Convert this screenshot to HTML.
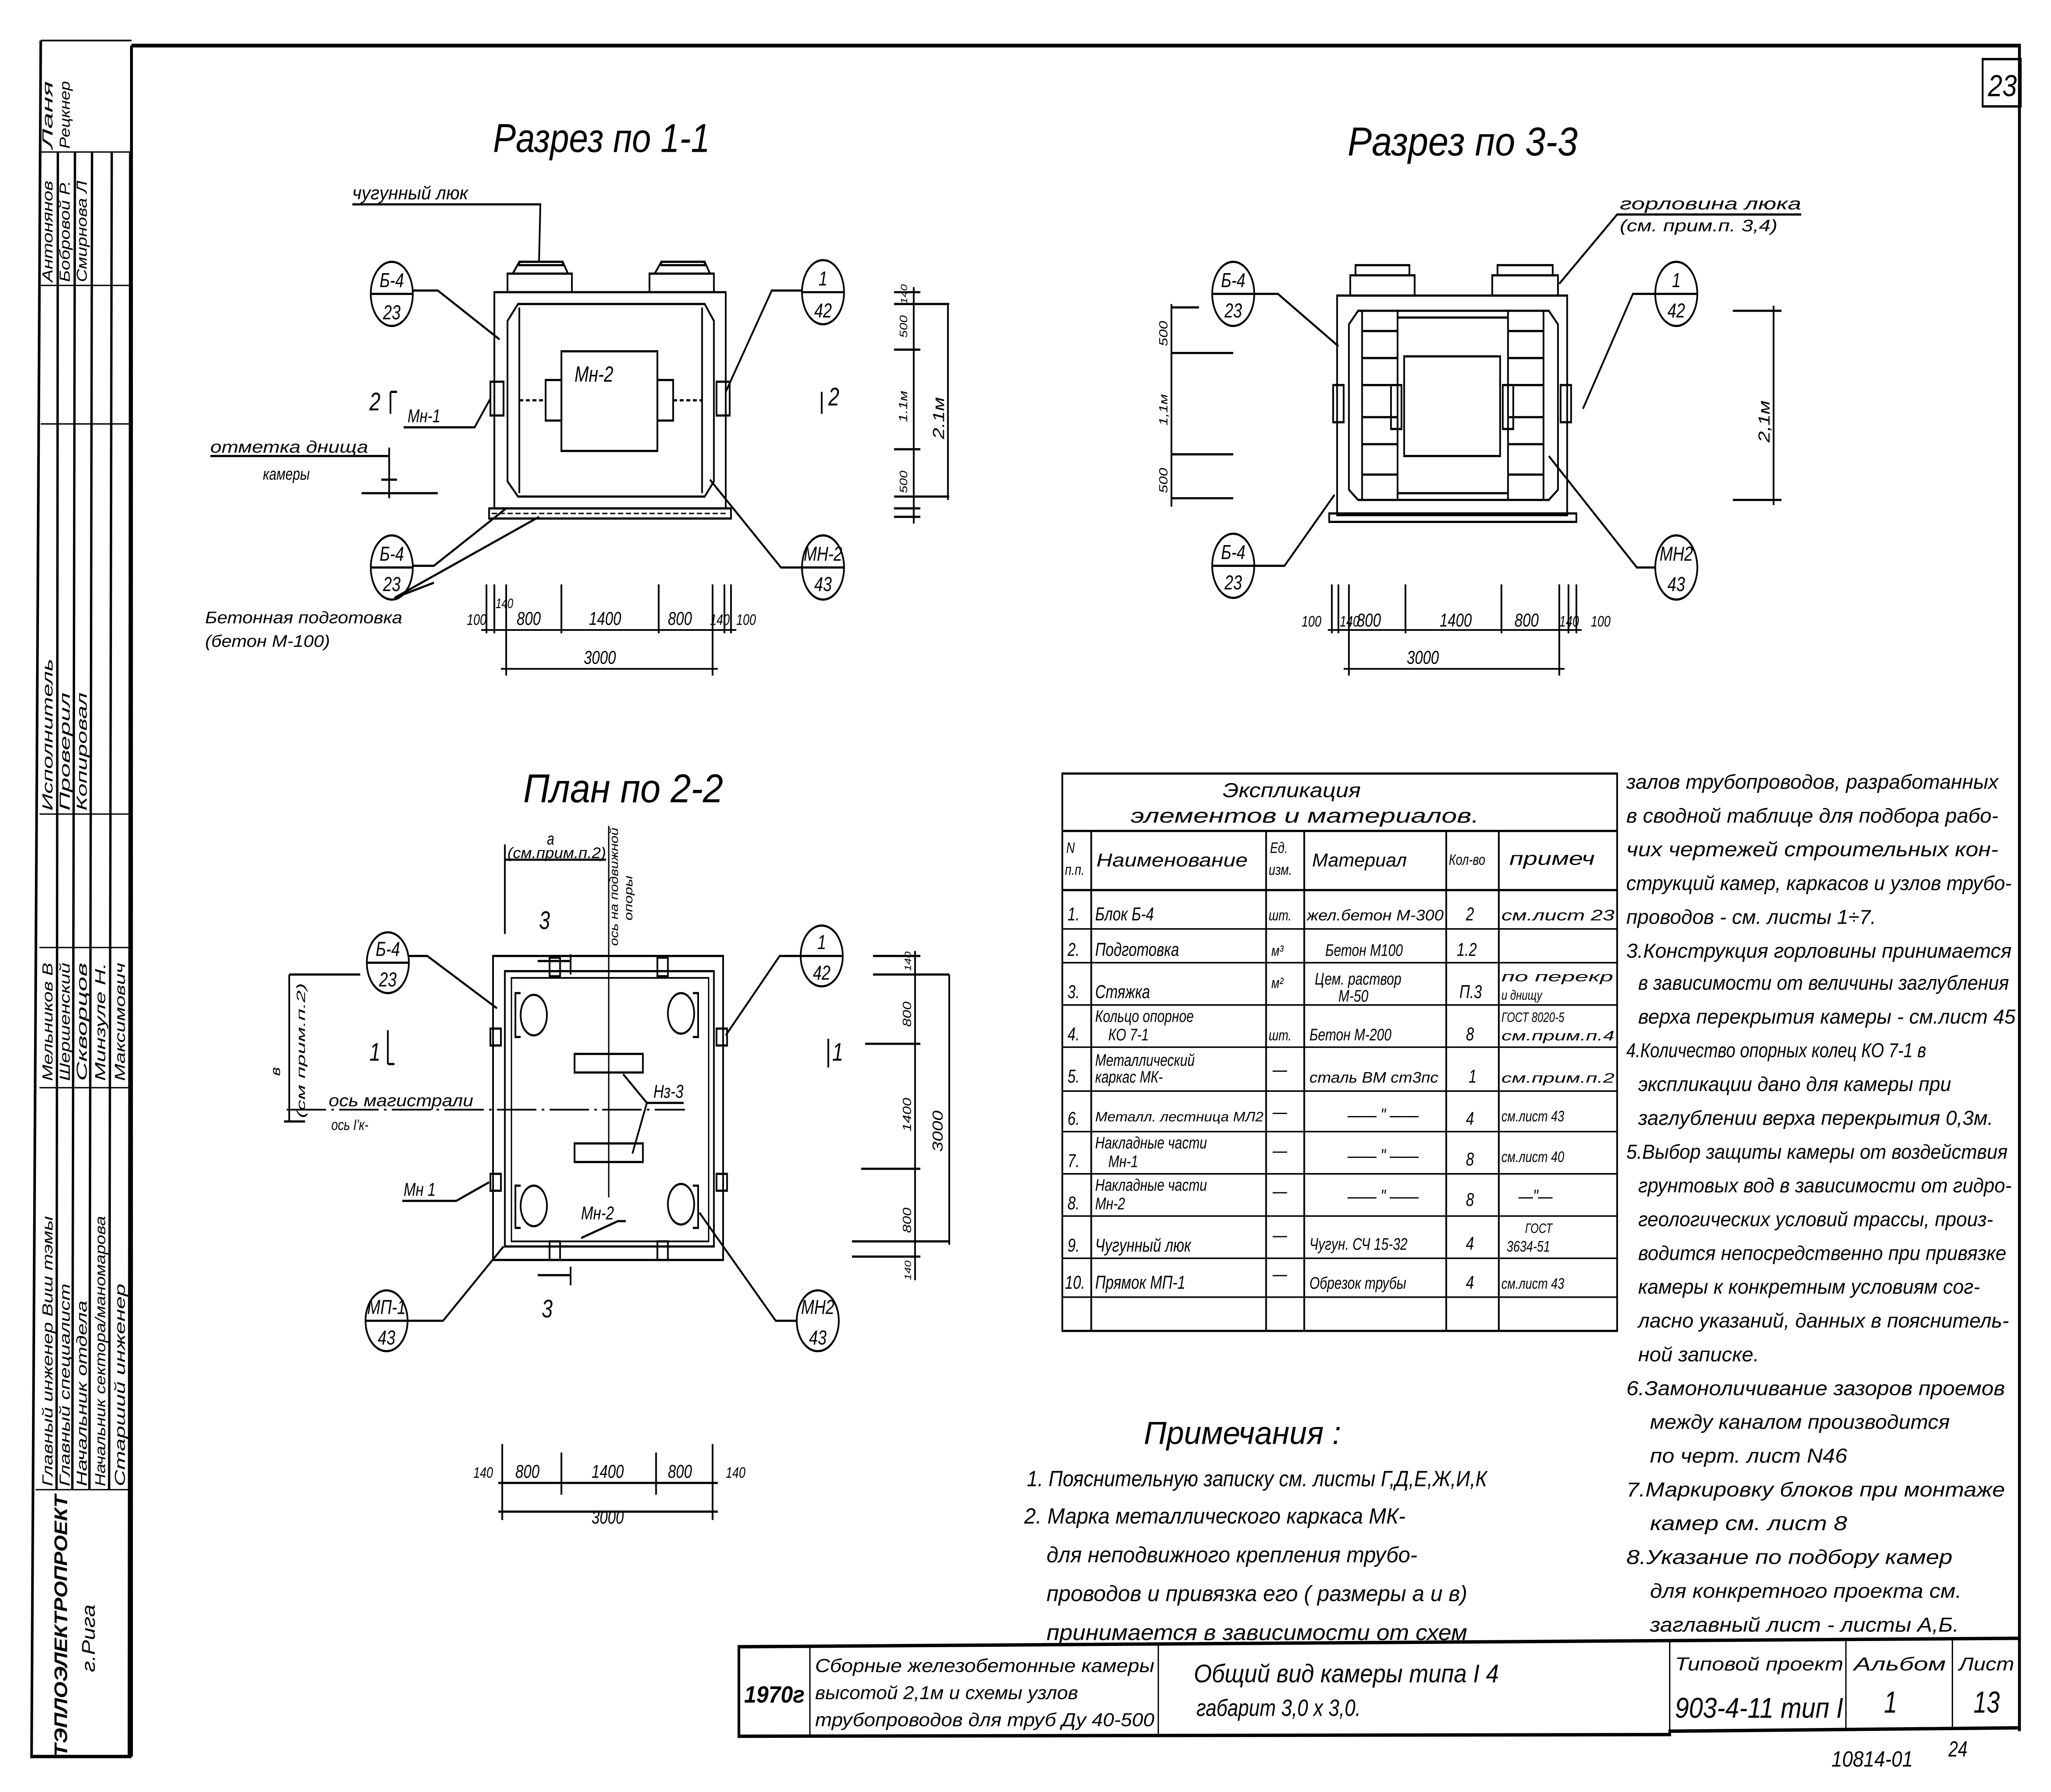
<!DOCTYPE html>
<html><head><meta charset="utf-8"><style>
html,body{margin:0;padding:0;background:#fff;overflow:hidden;width:100vw;height:100vh}
svg{display:block;position:fixed;left:0;top:0;width:100vw;height:100vh}
text{font-family:"Liberation Sans","DejaVu Sans",sans-serif;font-style:italic;fill:#000}
</style></head><body>
<svg xmlns="http://www.w3.org/2000/svg" viewBox="0 0 1560 1061" preserveAspectRatio="none">
<g fill="none" stroke="#000" stroke-width="1.2">
<path d="M100 27 L1536 27 L1536 1025 M100 27 L100 1040" stroke-width="2.2"/>
<rect x="1508" y="35" width="29" height="28" stroke-width="1.4"/>
<path d="M31 24 L100 24" stroke-width="1"/>
<path d="M31 24 L24 1040 L100 1040" stroke-width="2"/>
<path d="M44 90 L43 882 M57 90 L55 882 M70 90 L68 882 M85 90 L83 882 M99 90 L98 1040" stroke-width="1.8"/>
<path d="M31 90 L100 90 M31 169 L100 169 M31 251 L100 251 M30 482 L100 482 M30 561 L100 561 M30 644 L100 644 M27 882 L100 882" stroke-width="0.8"/>
<path d="M562 975 L1536 970 L1536 1023 L1270 1025 L1270 1027 L562 1028 Z" stroke-width="2"/>
<path d="M616 975 L616 1028 M881 974 L881 1028 M1270 972 L1270 1027 M1404 971 L1404 1024 M1485 971 L1485 1024" stroke-width="1"/>
</g>
<g font-size="11">
<text transform="translate(40 880) rotate(-90)" textLength="160" lengthAdjust="spacingAndGlyphs">Главный инженер Виш тэмы</text>
<text transform="translate(53 880) rotate(-90)" textLength="120" lengthAdjust="spacingAndGlyphs">Главный специалист</text>
<text transform="translate(66 880) rotate(-90)" textLength="110" lengthAdjust="spacingAndGlyphs">Начальник отдела</text>
<text transform="translate(80 880) rotate(-90)" textLength="160" lengthAdjust="spacingAndGlyphs">Начальник сектора/маномарова</text>
<text transform="translate(95 880) rotate(-90)" textLength="120" lengthAdjust="spacingAndGlyphs">Старший инженер</text>
<text transform="translate(40 640) rotate(-90)" textLength="70" lengthAdjust="spacingAndGlyphs">Мельников В</text>
<text transform="translate(53 640) rotate(-90)" textLength="70" lengthAdjust="spacingAndGlyphs">Шершенский</text>
<text transform="translate(66 640) rotate(-90)" textLength="70" lengthAdjust="spacingAndGlyphs">Скворцов</text>
<text transform="translate(80 640) rotate(-90)" textLength="70" lengthAdjust="spacingAndGlyphs">Минзуле Н.</text>
<text transform="translate(95 640) rotate(-90)" textLength="70" lengthAdjust="spacingAndGlyphs">Максимович</text>
<text transform="translate(40 480) rotate(-90)" textLength="90" lengthAdjust="spacingAndGlyphs">Исполнитель</text>
<text transform="translate(53 480) rotate(-90)" textLength="70" lengthAdjust="spacingAndGlyphs">Проверил</text>
<text transform="translate(66 480) rotate(-90)" textLength="70" lengthAdjust="spacingAndGlyphs">Копировал</text>
<text transform="translate(40 167) rotate(-90)" textLength="60" lengthAdjust="spacingAndGlyphs">Антонянов</text>
<text transform="translate(53 167) rotate(-90)" textLength="60" lengthAdjust="spacingAndGlyphs">Бобровой Р.</text>
<text transform="translate(66 167) rotate(-90)" textLength="60" lengthAdjust="spacingAndGlyphs">Смирнова Л</text>
<text transform="translate(40 88) rotate(-90)" textLength="40" lengthAdjust="spacingAndGlyphs">Ланя</text>
<text transform="translate(53 88) rotate(-90)" textLength="40" lengthAdjust="spacingAndGlyphs">Рецкнер</text>
<text transform="translate(51 1040) rotate(-90)" font-size="14" font-style="normal" font-weight="bold" textLength="155" lengthAdjust="spacingAndGlyphs">ТЭПЛОЭЛЕКТРОПРОЕКТ</text>
<text transform="translate(72 990) rotate(-90)" font-size="14" textLength="40" lengthAdjust="spacingAndGlyphs">г.Рига</text>
</g>
<text x="1512" y="57" font-size="18" textLength="22" lengthAdjust="spacingAndGlyphs">23</text>
<text x="566" y="1008" font-size="14" font-style="normal" font-weight="bold" textLength="46" lengthAdjust="spacingAndGlyphs">1970г</text>
<text x="620" y="990" font-size="11" textLength="258" lengthAdjust="spacingAndGlyphs">Сборные железобетонные камеры</text>
<text x="620" y="1006" font-size="11" textLength="200" lengthAdjust="spacingAndGlyphs">высотой 2,1м и схемы узлов</text>
<text x="620" y="1022" font-size="11" textLength="258" lengthAdjust="spacingAndGlyphs">трубопроводов для труб Ду 40-500</text>
<text x="908" y="996" font-size="15" textLength="232" lengthAdjust="spacingAndGlyphs">Общий вид камеры типа I  4</text>
<text x="910" y="1016" font-size="14" textLength="125" lengthAdjust="spacingAndGlyphs">габарит 3,0 х 3,0.</text>
<text x="1274" y="989" font-size="11" textLength="128" lengthAdjust="spacingAndGlyphs">Типовой проект</text>
<text x="1410" y="989" font-size="11" textLength="70" lengthAdjust="spacingAndGlyphs">Альбом</text>
<text x="1490" y="989" font-size="11" textLength="42" lengthAdjust="spacingAndGlyphs">Лист</text>
<text x="1274" y="1017" font-size="17" font-style="normal" textLength="128" lengthAdjust="spacingAndGlyphs">903-4-11 тип I</text>
<text x="1433" y="1014" font-size="18" font-style="normal">1</text>
<text x="1501" y="1014" font-size="18" font-style="normal">13</text>
<text x="1393" y="1046" font-size="13" textLength="62" lengthAdjust="spacingAndGlyphs">10814-01</text>
<text x="1482" y="1040" font-size="13">24</text>

<text x="375" y="90" font-size="24" textLength="165" lengthAdjust="spacingAndGlyphs">Разрез по 1-1</text>
<text x="1025" y="92" font-size="24" textLength="175" lengthAdjust="spacingAndGlyphs">Разрез по 3-3</text>
<text x="398" y="475" font-size="24" textLength="152" lengthAdjust="spacingAndGlyphs">План по 2-2</text>

<g fill="none" stroke="#000" stroke-width="1.3">
<rect x="376" y="173" width="176" height="128"/>
<path d="M394 180 L536 180 L543 190 L543 285 L536 294 L394 294 L386 285 L386 190 Z"/>
<path d="M395 182 L395 292 M534 182 L534 292"/>
<rect x="427" y="208" width="73" height="59"/>
<rect x="415" y="225" width="12" height="24"/><rect x="500" y="225" width="12" height="24"/>
<path d="M395 237 L415 237 M512 237 L534 237" stroke-dasharray="3 2"/>
<rect x="372" y="301" width="184" height="6"/>
<path d="M374 304 L554 304" stroke-dasharray="4 2" stroke-width="0.8"/>
<rect x="386" y="162" width="49" height="11"/><path d="M390 162 L395 155 L428 155 L432 162"/><rect x="395" y="155" width="33" height="2"/>
<rect x="494" y="162" width="49" height="11"/><path d="M498 162 L503 155 L536 155 L540 162"/><rect x="503" y="155" width="33" height="2"/>
<rect x="373" y="226" width="10" height="20"/><rect x="545" y="226" width="10" height="20"/>
<ellipse cx="298" cy="174" rx="16" ry="19"/><path d="M282 174 L314 174"/>
<path d="M314 172 L333 172 L380 201"/>
<ellipse cx="298" cy="336" rx="16" ry="19"/><path d="M282 336 L314 336"/>
<path d="M314 335 L330 335 L385 301 M330 345 L300 354 L410 306" />
<ellipse cx="626" cy="173" rx="16" ry="19"/><path d="M610 173 L642 173"/>
<path d="M610 172 L587 172 L552 232"/>
<ellipse cx="626" cy="336" rx="16" ry="19"/><path d="M610 336 L642 336"/>
<path d="M610 336 L594 336 L540 284"/>
<path d="M268 121 L411 121 L410 155"/>
<path d="M307 253 L361 253 L373 236"/>
<path d="M160 270 L296 270 M296 265 L296 295 M290 284 L302 284 M275 292 L333 292"/>
<path d="M297 232 L297 245 M297 232 L302 232 M625 232 L625 245"/>
<path d="M370 346 L370 375 M376 346 L376 375 M385 346 L385 400 M427 346 L427 375 M501 346 L501 375 M542 346 L542 400 M551 346 L551 375 M556 346 L556 375"/>
<path d="M366 373 L560 373 M381 396 L546 396" stroke-width="1"/>
<path d="M680 173 L700 173 M680 180 L722 180 M680 207 L700 207 M680 266 L700 266 M680 294 L722 294 M680 301 L700 301 M680 306 L700 306"/>
<path d="M695 170 L695 310 M721 180 L721 296"/>
</g>
<g font-size="13">
<text x="268" y="118" font-size="11" textLength="88" lengthAdjust="spacingAndGlyphs">чугунный люк</text>
<text x="298" y="170" text-anchor="middle" font-size="12">Б-4</text><text x="298" y="189" text-anchor="middle" font-size="12">23</text>
<text x="298" y="332" text-anchor="middle" font-size="12">Б-4</text><text x="298" y="350" text-anchor="middle" font-size="12">23</text>
<text x="626" y="169" text-anchor="middle" font-size="12">1</text><text x="626" y="188" text-anchor="middle" font-size="12">42</text>
<text x="626" y="332" text-anchor="middle" font-size="12">МН-2</text><text x="626" y="350" text-anchor="middle" font-size="12">43</text>
<text x="437" y="226" font-size="13">Мн-2</text>
<text x="310" y="250" font-size="11">Мн-1</text>
<text x="281" y="243" font-size="15">2</text><text x="630" y="240" font-size="15">2</text>
<text x="160" y="268" font-size="10" textLength="120" lengthAdjust="spacingAndGlyphs">отметка днища</text>
<text x="200" y="284" font-size="10">камеры</text>
<text x="156" y="369" font-size="10" textLength="150" lengthAdjust="spacingAndGlyphs">Бетонная подготовка</text>
<text x="156" y="383" font-size="10" textLength="95" lengthAdjust="spacingAndGlyphs">(бетон М-100)</text>
<text x="355" y="370" font-size="9">100</text><text x="377" y="360" font-size="8">140</text>
<text x="393" y="370" font-size="11">800</text><text x="448" y="370" font-size="11">1400</text><text x="508" y="370" font-size="11">800</text>
<text x="540" y="370" font-size="9">140</text><text x="560" y="370" font-size="9">100</text>
<text x="444" y="393" font-size="11">3000</text>
<text transform="translate(690 200) rotate(-90)" font-size="8">500</text>
<text transform="translate(690 250) rotate(-90)" font-size="9">1.1м</text>
<text transform="translate(690 292) rotate(-90)" font-size="8">500</text>
<text transform="translate(690 180) rotate(-90)" font-size="7">140</text>
<text transform="translate(718 260) rotate(-90)" font-size="12">2.1м</text>
</g>

<g fill="none" stroke="#000" stroke-width="1.3">
<rect x="1017" y="175" width="175" height="130"/>
<path d="M1033 184 L1178 184 L1185 192 L1185 290 L1178 296 L1033 296 L1026 290 L1026 192 Z"/>
<path d="M1036 184 L1036 296 M1063 184 L1063 296 M1147 184 L1147 296 M1174 184 L1174 296"/>
<path d="M1036 196 L1063 196 M1036 212 L1063 212 M1036 228 L1063 228 M1036 247 L1063 247 M1036 263 L1063 263 M1036 281 L1063 281 M1147 196 L1174 196 M1147 212 L1174 212 M1147 228 L1174 228 M1147 247 L1174 247 M1147 263 L1174 263 M1147 281 L1174 281"/>
<path d="M1063 188 L1147 188 M1063 292 L1147 292"/>
<rect x="1068" y="211" width="73" height="59"/>
<rect x="1058" y="228" width="8" height="26"/><rect x="1143" y="228" width="8" height="26"/>
<rect x="1014" y="228" width="8" height="22"/><rect x="1187" y="228" width="8" height="22"/>
<rect x="1011" y="304" width="188" height="5"/>
<rect x="1027" y="163" width="49" height="12"/><rect x="1031" y="157" width="41" height="6"/>
<rect x="1135" y="163" width="50" height="12"/><rect x="1139" y="157" width="42" height="6"/>
<ellipse cx="938" cy="174" rx="16" ry="19"/><path d="M922 174 L954 174"/>
<path d="M954 174 L972 174 L1018 205"/>
<ellipse cx="938" cy="335" rx="16" ry="19"/><path d="M922 335 L954 335"/>
<path d="M954 335 L977 335 L1015 293"/>
<ellipse cx="1275" cy="174" rx="16" ry="19"/><path d="M1259 174 L1291 174"/>
<path d="M1259 174 L1242 174 L1204 242"/>
<ellipse cx="1275" cy="336" rx="16" ry="19"/><path d="M1259 336 L1245 336 L1178 270"/>
<path d="M1186 168 L1230 127 L1370 127"/>
<path d="M891 180 L891 300 M891 182 L912 182 M891 209 L938 209 M891 269 L938 269 M891 295 L938 295"/>
<path d="M1318 184 L1355 184 M1318 296 L1355 296 M1349 181 L1349 299"/>
<path d="M1013 346 L1013 375 M1018 346 L1018 375 M1026 346 L1026 400 M1069 346 L1069 375 M1142 346 L1142 375 M1186 346 L1186 400 M1193 346 L1193 375 M1199 346 L1199 375"/>
<path d="M1010 373 L1203 373 M1022 396 L1190 396" stroke-width="1"/>
</g>
<g font-size="12">
<text x="938" y="170" text-anchor="middle">Б-4</text><text x="938" y="188" text-anchor="middle">23</text>
<text x="938" y="331" text-anchor="middle">Б-4</text><text x="938" y="349" text-anchor="middle">23</text>
<text x="1275" y="170" text-anchor="middle">1</text><text x="1275" y="188" text-anchor="middle">42</text>
<text x="1275" y="332" text-anchor="middle">МН2</text><text x="1275" y="350" text-anchor="middle">43</text>
<text x="1232" y="124" font-size="10" textLength="138" lengthAdjust="spacingAndGlyphs">горловина люка</text>
<text x="1232" y="137" font-size="10" textLength="120" lengthAdjust="spacingAndGlyphs">(см. прим.п. 3,4)</text>
<text transform="translate(888 205) rotate(-90)" font-size="9">500</text>
<text transform="translate(888 252) rotate(-90)" font-size="9">1,1м</text>
<text transform="translate(888 292) rotate(-90)" font-size="9">500</text>
<text transform="translate(1346 262) rotate(-90)" font-size="12">2,1м</text>
<text x="990" y="371" font-size="9">100</text><text x="1019" y="371" font-size="9">140</text>
<text x="1032" y="371" font-size="11">800</text><text x="1095" y="371" font-size="11">1400</text><text x="1152" y="371" font-size="11">800</text>
<text x="1186" y="371" font-size="9">140</text><text x="1210" y="371" font-size="9">100</text>
<text x="1070" y="393" font-size="11">3000</text>
</g>

<g fill="none" stroke="#000" stroke-width="1.3">
<rect x="375" y="566" width="175" height="180"/>
<rect x="384" y="575" width="159" height="163"/>
<path d="M389 579 L539 579 L539 735 L389 735 Z" stroke-width="1"/>
<ellipse cx="406" cy="601" rx="10" ry="12"/><ellipse cx="518" cy="600" rx="10" ry="12"/>
<ellipse cx="406" cy="714" rx="10" ry="12"/><ellipse cx="518" cy="713" rx="10" ry="12"/>
<path d="M396 588 L392 588 L392 614 L396 614 M527 588 L531 588 L531 614 L527 614 M396 702 L392 702 L392 727 L396 727 M527 702 L531 702 L531 727 L527 727"/>
<rect x="437" y="624" width="52" height="11"/><rect x="437" y="677" width="52" height="11"/>
<path d="M463 489 L463 709" stroke-width="1"/>
<path d="M218 657 L521 657" stroke-dasharray="30 4 2 4" stroke-width="1"/>
<rect x="418" y="567" width="8" height="11"/><rect x="500" y="567" width="8" height="11"/>
<rect x="418" y="735" width="8" height="11"/><rect x="500" y="735" width="8" height="11"/>
<rect x="373" y="609" width="8" height="10"/><rect x="545" y="609" width="8" height="10"/>
<rect x="373" y="695" width="8" height="10"/><rect x="545" y="695" width="8" height="10"/>
<ellipse cx="295" cy="570" rx="16" ry="18"/><path d="M279 570 L311 570"/>
<path d="M311 566 L325 566 L378 597"/>
<ellipse cx="625" cy="566" rx="16" ry="18"/><path d="M609 566 L641 566"/>
<path d="M609 566 L593 566 L552 613"/>
<ellipse cx="294" cy="782" rx="16" ry="18"/><path d="M278 782 L310 782"/>
<path d="M310 782 L337 782 L383 738"/>
<ellipse cx="622" cy="782" rx="16" ry="18"/><path d="M606 782 L590 782 L532 718"/>
<path d="M306 711 L347 711 L372 700 M442 733 L470 723 L476 723"/>
<path d="M492 653 L520 653 M492 653 L474 636 M492 653 L481 683"/>
<path d="M384 500 L384 553 M384 509 L461 509"/>
<path d="M220 577 L274 577 M220 577 L220 664 M216 664 L232 664"/>
<path d="M409 569 L434 569 M434 565 L434 577 M409 755 L434 755 M434 750 L434 761"/>
<path d="M295 610 L295 630 M295 630 L300 630 M630 615 L630 632"/>
<path d="M664 566 L700 566 M664 577 L722 577 M658 618 L700 618 M655 692 L700 692 M648 735 L722 735 M648 744 L700 744"/>
<path d="M696 563 L696 758 M722 577 L722 737"/>
<path d="M382 855 L382 900 M427 860 L427 885 M499 860 L499 885 M542 855 L542 900 M379 878 L546 878 M379 895 L546 895"/>
</g>
<g font-size="12">
<text x="295" y="566" text-anchor="middle">Б-4</text><text x="295" y="584" text-anchor="middle">23</text>
<text x="625" y="562" text-anchor="middle">1</text><text x="625" y="580" text-anchor="middle">42</text>
<text x="294" y="778" text-anchor="middle">МП-1</text><text x="294" y="796" text-anchor="middle">43</text>
<text x="622" y="778" text-anchor="middle">МН2</text><text x="622" y="796" text-anchor="middle">43</text>
<text x="410" y="550" font-size="15">3</text><text x="412" y="780" font-size="15">3</text>
<text x="281" y="628" font-size="15">1</text><text x="633" y="628" font-size="15">1</text>
<text x="416" y="500" font-size="10">а</text>
<text x="386" y="508" font-size="9" textLength="75" lengthAdjust="spacingAndGlyphs">(см.прим.п.2)</text>
<text transform="translate(470 560) rotate(-90)" font-size="9" textLength="70" lengthAdjust="spacingAndGlyphs">ось на подвижной</text>
<text transform="translate(481 545) rotate(-90)" font-size="9">опоры</text>
<text transform="translate(213 637) rotate(-90)" font-size="10">в</text>
<text transform="translate(232 662) rotate(-90)" font-size="9" textLength="80" lengthAdjust="spacingAndGlyphs">(см прим.п.2)</text>
<text x="250" y="655" font-size="10" textLength="110" lengthAdjust="spacingAndGlyphs">ось магистрали</text>
<text x="252" y="669" font-size="9">ось I'к-</text>
<text x="497" y="650" font-size="11">Нз-3</text>
<text x="307" y="708" font-size="11">Мн 1</text>
<text x="442" y="722" font-size="11">Мн-2</text>
<text transform="translate(693 608) rotate(-90)" font-size="9">800</text>
<text transform="translate(693 670) rotate(-90)" font-size="9">1400</text>
<text transform="translate(693 730) rotate(-90)" font-size="9">800</text>
<text transform="translate(693 575) rotate(-90)" font-size="7">140</text>
<text transform="translate(693 758) rotate(-90)" font-size="7">140</text>
<text transform="translate(717 682) rotate(-90)" font-size="11">3000</text>
<text x="360" y="875" font-size="9">140</text>
<text x="392" y="875" font-size="11">800</text><text x="450" y="875" font-size="11">1400</text><text x="508" y="875" font-size="11">800</text>
<text x="552" y="875" font-size="9">140</text>
<text x="450" y="902" font-size="11">3000</text>
</g>

<g fill="none" stroke="#000" stroke-width="1.3">
<rect x="808" y="458" width="422" height="330"/>
<path d="M808 492 L1230 492 M808 527 L1230 527"/>
<path d="M830 492 L830 788 M963 492 L963 788 M992 492 L992 788 M1100 492 L1100 788 M1140 492 L1140 788"/>
<path d="M808 550 L1230 550 M808 570 L1230 570 M808 595 L1230 595 M808 620 L1230 620 M808 646 L1230 646 M808 670 L1230 670 M808 695 L1230 695 M808 720 L1230 720 M808 745 L1230 745 M808 768 L1230 768" stroke-width="0.9"/>
</g>
<g font-size="11">
<text x="930" y="472" font-size="12" textLength="105" lengthAdjust="spacingAndGlyphs">Экспликация</text>
<text x="860" y="487" font-size="12" textLength="265" lengthAdjust="spacingAndGlyphs">элементов и материалов.</text>
<text x="811" y="505" font-size="9">N</text><text x="810" y="518" font-size="9">п.п.</text>
<text x="834" y="513" textLength="115" lengthAdjust="spacingAndGlyphs">Наименование</text>
<text x="966" y="505" font-size="9">Ед.</text><text x="965" y="518" font-size="9">изм.</text>
<text x="998" y="513" textLength="72" lengthAdjust="spacingAndGlyphs">Материал</text>
<text x="1102" y="512" font-size="9">Кол-во</text>
<text x="1148" y="512" textLength="65" lengthAdjust="spacingAndGlyphs">примеч</text>
<text x="812" y="545">1.</text><text x="833" y="545">Блок Б-4</text><text x="965" y="545" font-size="9">шт.</text><text x="994" y="545" font-size="9" textLength="104" lengthAdjust="spacingAndGlyphs">жел.бетон М-300</text><text x="1115" y="545">2</text><text x="1142" y="545" font-size="9" textLength="86" lengthAdjust="spacingAndGlyphs">см.лист 23</text>
<text x="812" y="566">2.</text><text x="833" y="566">Подготовка</text><text x="967" y="566" font-size="9">м³</text><text x="1008" y="566" font-size="10">Бетон М100</text><text x="1108" y="566">1.2</text>
<text x="812" y="591">3.</text><text x="833" y="591">Стяжка</text><text x="967" y="585" font-size="9">м²</text><text x="1000" y="583" font-size="10">Цем. раствор</text><text x="1018" y="593" font-size="10">М-50</text><text x="1110" y="591">П.3</text><text x="1142" y="581" font-size="8" textLength="85" lengthAdjust="spacingAndGlyphs">по перекр</text><text x="1142" y="592" font-size="8">и днищу</text>
<text x="833" y="605" font-size="10">Кольцо опорное</text><text x="812" y="616">4.</text><text x="843" y="616" font-size="10">КО 7-1</text><text x="965" y="616" font-size="9">шт.</text><text x="996" y="616" font-size="10">Бетон М-200</text><text x="1115" y="616">8</text><text x="1142" y="605" font-size="8">ГОСТ 8020-5</text><text x="1142" y="616" font-size="8" textLength="86" lengthAdjust="spacingAndGlyphs">см.прим.п.4</text>
<text x="833" y="631" font-size="10">Металлический</text><text x="812" y="641">5.</text><text x="833" y="641" font-size="10">каркас МК-</text><text x="968" y="637">—</text><text x="996" y="641" font-size="9" textLength="98" lengthAdjust="spacingAndGlyphs">сталь ВМ ст3пс</text><text x="1117" y="641">1</text><text x="1142" y="641" font-size="8" textLength="86" lengthAdjust="spacingAndGlyphs">см.прим.п.2</text>
<text x="812" y="666">6.</text><text x="833" y="664" font-size="8" textLength="128" lengthAdjust="spacingAndGlyphs">Металл. лестница МЛ2</text><text x="968" y="662">—</text><text x="1025" y="664">—— " ——</text><text x="1115" y="666">4</text><text x="1142" y="664" font-size="9">см.лист 43</text>
<text x="833" y="680" font-size="10">Накладные части</text><text x="812" y="691">7.</text><text x="843" y="691" font-size="10">Мн-1</text><text x="968" y="685">—</text><text x="1025" y="688">—— " ——</text><text x="1115" y="690">8</text><text x="1142" y="688" font-size="9">см.лист 40</text>
<text x="833" y="705" font-size="10">Накладные части</text><text x="812" y="716">8.</text><text x="833" y="716" font-size="10">Мн-2</text><text x="968" y="709">—</text><text x="1025" y="712">—— " ——</text><text x="1115" y="714">8</text><text x="1155" y="712">—"—</text>
<text x="812" y="741">9.</text><text x="833" y="741">Чугунный люк</text><text x="968" y="735">—</text><text x="996" y="740" font-size="10">Чугун. СЧ 15-32</text><text x="1115" y="740">4</text><text x="1160" y="730" font-size="8">ГОСТ</text><text x="1146" y="741" font-size="9">3634-51</text>
<text x="810" y="763">10.</text><text x="833" y="763">Прямок МП-1</text><text x="968" y="758">—</text><text x="996" y="763" font-size="10">Обрезок трубы</text><text x="1115" y="763">4</text><text x="1142" y="763" font-size="9">см.лист 43</text>
</g>

<g font-size="12">
<text x="1237" y="467" textLength="283" lengthAdjust="spacingAndGlyphs">залов трубопроводов, разработанных</text>
<text x="1237" y="487" textLength="283" lengthAdjust="spacingAndGlyphs">в сводной таблице для подбора рабо-</text>
<text x="1237" y="507" textLength="283" lengthAdjust="spacingAndGlyphs">чих  чертежей  строительных  кон-</text>
<text x="1237" y="527" textLength="293" lengthAdjust="spacingAndGlyphs">струкций камер, каркасов и узлов трубо-</text>
<text x="1237" y="547" textLength="190" lengthAdjust="spacingAndGlyphs">проводов - см. листы 1÷7.</text>
<text x="1237" y="567" textLength="293" lengthAdjust="spacingAndGlyphs">3.Конструкция горловины принимается</text>
<text x="1246" y="586" textLength="282" lengthAdjust="spacingAndGlyphs">в зависимости от величины заглубления</text>
<text x="1246" y="606" textLength="287" lengthAdjust="spacingAndGlyphs">верха  перекрытия  камеры - см.лист 45</text>
<text x="1237" y="626" textLength="228" lengthAdjust="spacingAndGlyphs">4.Количество опорных колец КО 7-1 в</text>
<text x="1246" y="646" textLength="238" lengthAdjust="spacingAndGlyphs">экспликации дано для камеры при</text>
<text x="1246" y="666" textLength="270" lengthAdjust="spacingAndGlyphs">заглублении верха перекрытия 0,3м.</text>
<text x="1237" y="686" textLength="290" lengthAdjust="spacingAndGlyphs">5.Выбор защиты камеры от воздействия</text>
<text x="1246" y="706" textLength="284" lengthAdjust="spacingAndGlyphs">грунтовых вод в зависимости от гидро-</text>
<text x="1246" y="726" textLength="270" lengthAdjust="spacingAndGlyphs">геологических  условий трассы, произ-</text>
<text x="1246" y="746" textLength="280" lengthAdjust="spacingAndGlyphs">водится непосредственно при привязке</text>
<text x="1246" y="766" textLength="260" lengthAdjust="spacingAndGlyphs">камеры к конкретным условиям сог-</text>
<text x="1246" y="786" textLength="282" lengthAdjust="spacingAndGlyphs">ласно указаний, данных в пояснитель-</text>
<text x="1246" y="806" textLength="92" lengthAdjust="spacingAndGlyphs">ной записке.</text>
<text x="1237" y="826" textLength="288" lengthAdjust="spacingAndGlyphs">6.Замоноличивание зазоров проемов</text>
<text x="1255" y="846" textLength="228" lengthAdjust="spacingAndGlyphs">между каналом производится</text>
<text x="1255" y="866" textLength="150" lengthAdjust="spacingAndGlyphs">по черт. лист N46</text>
<text x="1237" y="886" textLength="288" lengthAdjust="spacingAndGlyphs">7.Маркировку блоков при монтаже</text>
<text x="1255" y="906" textLength="150" lengthAdjust="spacingAndGlyphs">камер  см. лист 8</text>
<text x="1237" y="926" textLength="248" lengthAdjust="spacingAndGlyphs">8.Указание по подбору камер</text>
<text x="1255" y="946" textLength="237" lengthAdjust="spacingAndGlyphs">для  конкретного  проекта  см.</text>
<text x="1255" y="966" textLength="235" lengthAdjust="spacingAndGlyphs">заглавный  лист - листы А,Б.</text>
</g>

<g font-size="13">
<text x="870" y="855" font-size="19" textLength="150" lengthAdjust="spacingAndGlyphs">Примечания :</text>
<text x="781" y="880" textLength="350" lengthAdjust="spacingAndGlyphs">1. Пояснительную записку см. листы Г,Д,Е,Ж,И,К</text>
<text x="779" y="902" textLength="290" lengthAdjust="spacingAndGlyphs">2. Марка металлического каркаса МК-</text>
<text x="796" y="925" textLength="282" lengthAdjust="spacingAndGlyphs">для неподвижного крепления трубо-</text>
<text x="796" y="948" textLength="320" lengthAdjust="spacingAndGlyphs">проводов и привязка его ( размеры а и в)</text>
<text x="796" y="971" textLength="320" lengthAdjust="spacingAndGlyphs">принимается в зависимости от схем</text>
</g>
</svg>
</body></html>
